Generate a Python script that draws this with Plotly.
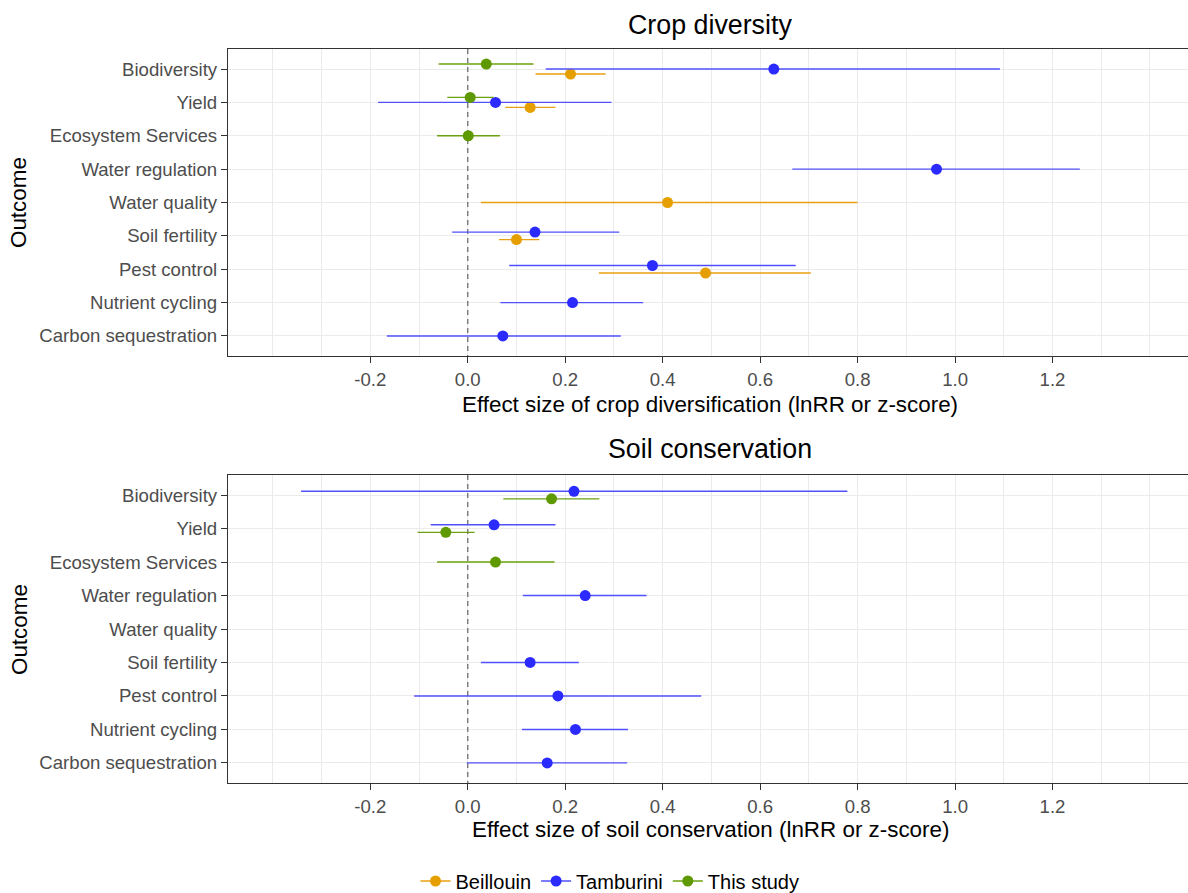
import plotly.graph_objects as go

# ---------------- data ----------------
outcomes = ["Biodiversity", "Yield", "Ecosystem Services", "Water regulation",
            "Water quality", "Soil fertility", "Pest control", "Nutrient cycling",
            "Carbon sequestration"]
series_names = ["Beillouin", "Tamburini", "This study"]

# Crop diversity panel (None = not reported)
crop_beillouin_est = [0.211, 0.128, None, None, 0.410, 0.100, 0.488, None, None]
crop_beillouin_lo  = [0.139, 0.077, None, None, 0.027, 0.064, 0.269, None, None]
crop_beillouin_hi  = [0.283, 0.180, None, None, 0.800, 0.147, 0.704, None, None]

crop_tamburini_est = [0.628, 0.057, None, 0.962, None, 0.138, 0.379, 0.215, 0.072]
crop_tamburini_lo  = [0.160, -0.184, None, 0.666, None, -0.032, 0.085, 0.067, -0.166]
crop_tamburini_hi  = [1.092, 0.295, None, 1.256, None, 0.311, 0.673, 0.360, 0.314]

crop_study_est = [0.038, 0.005, 0.001, None, None, None, None, None, None]
crop_study_lo  = [-0.060, -0.042, -0.063, None, None, None, None, None, None]
crop_study_hi  = [0.135, 0.053, 0.066, None, None, None, None, None, None]

# Soil conservation panel
soil_beillouin_est = [None] * 9
soil_beillouin_lo  = [None] * 9
soil_beillouin_hi  = [None] * 9

soil_tamburini_est = [0.218, 0.054, None, 0.241, None, 0.128, 0.185, 0.221, 0.163]
soil_tamburini_lo  = [-0.342, -0.076, None, 0.113, None, 0.027, -0.110, 0.111, -0.002]
soil_tamburini_hi  = [0.779, 0.180, None, 0.367, None, 0.228, 0.479, 0.329, 0.327]

soil_study_est = [0.172, -0.045, 0.057, None, None, None, None, None, None]
soil_study_lo  = [0.073, -0.103, -0.063, None, None, None, None, None, None]
soil_study_hi  = [0.270, 0.014, 0.178, None, None, None, None, None, None]

reference_effect = 0.0  # dashed "no effect" line

x_tick_vals = [-0.2, 0.0, 0.2, 0.4, 0.6, 0.8, 1.0, 1.2]
x_tick_text = ["-0.2", "0.0", "0.2", "0.4", "0.6", "0.8", "1.0", "1.2"]
x_minor_vals = [round(-0.4 + 0.1 * i, 1) for i in range(19)]

panel_titles = ["Crop diversity", "Soil conservation"]
x_titles = ["Effect size of crop diversification (lnRR or z-score)",
            "Effect size of soil conservation (lnRR or z-score)"]

# ---------------- style ----------------
W, H = 1188, 893
FONT = "Liberation Sans, Arial, sans-serif"
TICK_SIZE = 18.6
AXTITLE_SIZE = 22.4
TITLE_SIZE = 26.8
marker_colors = {"Beillouin": "#E69F00", "Tamburini": "#2B2BFF", "This study": "#5E9900"}
line_colors = {"Beillouin": "#E8A010", "Tamburini": "#5050FF", "This study": "#6AA012"}
DODGE = 0.45
# order (top to bottom within a row) used by each panel
dodge_orders = [["This study", "Tamburini", "Beillouin"],
                ["Tamburini", "This study", "Beillouin"]]

panels = [
    {"Beillouin": (crop_beillouin_est, crop_beillouin_lo, crop_beillouin_hi),
     "Tamburini": (crop_tamburini_est, crop_tamburini_lo, crop_tamburini_hi),
     "This study": (crop_study_est, crop_study_lo, crop_study_hi)},
    {"Beillouin": (soil_beillouin_est, soil_beillouin_lo, soil_beillouin_hi),
     "Tamburini": (soil_tamburini_est, soil_tamburini_lo, soil_tamburini_hi),
     "This study": (soil_study_est, soil_study_lo, soil_study_hi)},
]

# pixel geometry of the two panels
x_left_px = 228
panel_px = [(49, 356), (475, 783)]
y_range = [len(outcomes) - 1 + 0.6, -0.6]

fig = go.Figure()

for p, data in enumerate(panels):
    xa = "x" if p == 0 else "x2"
    ya = "y" if p == 0 else "y2"
    # dashed zero line drawn first, beneath the points
    fig.add_trace(go.Scatter(
        x=[reference_effect, reference_effect], y=[y_range[1], y_range[0]],
        mode="lines", xaxis=xa, yaxis=ya, showlegend=False, hoverinfo="skip",
        line=dict(color="#6E6E6E", width=1.3, dash="5px,4px")))
    offsets = {s: [None] * len(outcomes) for s in series_names}
    for i in range(len(outcomes)):
        present = [s for s in dodge_orders[p] if data[s][0][i] is not None]
        n = len(present)
        for k, s in enumerate(present):
            offsets[s][i] = (k - (n - 1) / 2) * DODGE / n
    for s in series_names:
        est, lo, hi = data[s]
        xs, ys, ep, em = [], [], [], []
        for i in range(len(outcomes)):
            if est[i] is None:
                continue
            xs.append(est[i])
            ys.append(i + offsets[s][i])
            ep.append(hi[i] - est[i])
            em.append(est[i] - lo[i])
        if not xs:
            continue
        fig.add_trace(go.Scatter(
            x=xs, y=ys, mode="markers", xaxis=xa, yaxis=ya, showlegend=False,
            marker=dict(size=11, color=marker_colors[s]),
            error_x=dict(type="data", symmetric=False, array=ep, arrayminus=em,
                         width=0, thickness=1.4, color=line_colors[s]),
            name=s))

# legend entries
for s in series_names:
    fig.add_trace(go.Scatter(
        x=[None], y=[None], mode="lines+markers", name=s, showlegend=True,
        line=dict(color=line_colors[s], width=1.4),
        marker=dict(size=11, color=marker_colors[s])))

def xaxis_cfg(anchor):
    return dict(
        domain=[x_left_px / W, 1.0], anchor=anchor,
        range=[-0.492, 1.478],
        tickmode="array", tickvals=x_tick_vals, ticktext=x_tick_text,
        showgrid=True, gridcolor="#EBEBEB", gridwidth=1.1,
        minor=dict(tickmode="array", tickvals=x_minor_vals, showgrid=True,
                   gridcolor="#EBEBEB", gridwidth=1.1, ticks=""),
        ticks="outside", ticklen=6, tickwidth=1.2, tickcolor="#333333",
        tickfont=dict(family=FONT, size=TICK_SIZE, color="#4D4D4D"),
        ticklabelstandoff=1,
        showline=True, linecolor="#333333", linewidth=1.3, mirror=True,
        zeroline=False, automargin=False, fixedrange=True)

def yaxis_cfg(anchor, top_px, bot_px):
    return dict(
        domain=[1 - bot_px / H, 1 - top_px / H], anchor=anchor,
        range=y_range,
        tickmode="array", tickvals=list(range(len(outcomes))), ticktext=outcomes,
        showgrid=True, gridcolor="#EBEBEB", gridwidth=1.1,
        ticks="outside", ticklen=6, tickwidth=1.2, tickcolor="#333333",
        tickfont=dict(family=FONT, size=TICK_SIZE, color="#4D4D4D"),
        ticklabelstandoff=0,
        showline=True, linecolor="#333333", linewidth=1.3, mirror=False,
        zeroline=False, automargin=False, fixedrange=True)

fig.update_layout(
    width=W, height=H,
    margin=dict(l=0, r=0, t=0, b=0, autoexpand=False),
    paper_bgcolor="white", plot_bgcolor="white",
    font=dict(family=FONT, color="#000000"),
    xaxis=xaxis_cfg("y"),
    yaxis=yaxis_cfg("x", *panel_px[0]),
    xaxis2=xaxis_cfg("y2"),
    yaxis2=yaxis_cfg("x2", *panel_px[1]),
    legend=dict(orientation="h", x=610 / W, xanchor="center",
                y=1 - 881 / H, yanchor="middle",
                font=dict(family=FONT, size=20, color="#000000"),
                bgcolor="rgba(0,0,0,0)", itemwidth=30, traceorder="normal"),
)

# titles
title_y_px = [25, 449]
xtitle_y_px = [404, 829]
outcome_y_px = [203, 630]
for p in range(2):
    fig.add_annotation(text=panel_titles[p], xref="paper", yref="paper",
                       x=710 / W, y=1 - title_y_px[p] / H, showarrow=False,
                       xanchor="center", yanchor="middle",
                       font=dict(family=FONT, size=TITLE_SIZE, color="#000000"))
    fig.add_annotation(text=x_titles[p], xref="paper", yref="paper",
                       x=710 / W, y=1 - xtitle_y_px[p] / H, showarrow=False,
                       xanchor="center", yanchor="middle",
                       font=dict(family=FONT, size=AXTITLE_SIZE, color="#000000"))
    fig.add_annotation(text="Outcome", xref="paper", yref="paper",
                       x=19 / W, y=1 - outcome_y_px[p] / H, showarrow=False,
                       xanchor="center", yanchor="middle", textangle=-90,
                       font=dict(family=FONT, size=AXTITLE_SIZE, color="#000000"))

fig.write_html("out.html")
